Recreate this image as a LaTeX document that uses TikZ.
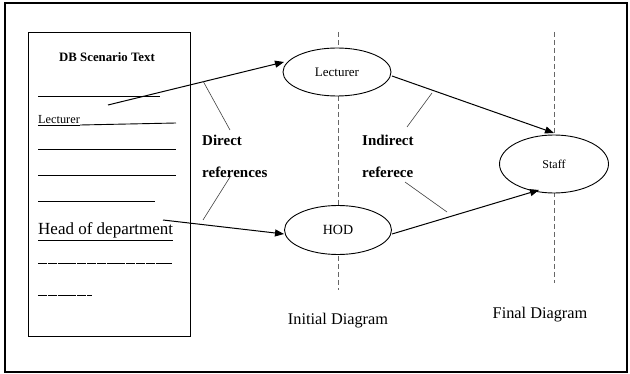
\documentclass[tikz,border=0pt]{standalone}
\usepackage{fontspec}
\setmainfont{Liberation Serif}
\usetikzlibrary{arrows.meta,shapes.geometric}
\newcommand{\fsz}[1]{\fontsize{#1}{#1}\selectfont}
\begin{document}
\begin{tikzpicture}[x=1pt,y=-1pt,
  ell/.style={draw,ellipse,fill=white,line width=0.9pt,inner sep=0pt},
  txtline/.style={line width=0.9pt},
  arr/.style={line width=1pt,-{Triangle[length=9pt,width=7pt]}},
  ptr/.style={line width=0.6pt,black!75},
  vdash/.style={line width=1pt,black!60,dash pattern=on 5pt off 3pt},
  lbl/.style={font=\fsz{15}\bfseries,anchor=west,inner sep=0pt},
  captxt/.style={font=\fsz{16.3},inner sep=0pt}]
\useasboundingbox (0,0) rectangle (630,374);
\draw[line width=1.4pt] (5,3) rectangle (627,372);
% document box
\draw[line width=0.8pt] (28,32) rectangle (190,336);
\node[font=\fsz{12.8}\bfseries,inner sep=0pt] (title) at (107,57) {DB Scenario Text};
\draw[txtline] (38,96) -- (160,96);
\node[font=\fsz{12.3},anchor=base west,inner sep=0pt] (lec) at (38,124) {\underline{Lecturer}};
\draw[txtline] (lec.base east) ++(0,1) coordinate (lecend) -- (176,123);
\draw[txtline] (38,149) -- (176,149);
\draw[txtline] (38,175) -- (176,175);
\draw[txtline] (38,201) -- (155,201);
\node[font=\fsz{17},anchor=base west,inner sep=0pt] (hodt) at (38,235) {\underline{Head of department}};
\draw[txtline,dash pattern=on 9pt off 0.8pt] (38,263) -- (172,263);
\draw[txtline,dash pattern=on 9pt off 0.8pt] (38,295) -- (92,295);
% dashed verticals
\draw[vdash] (338,32) -- (338,290);
\draw[vdash] (554,32) -- (554,283);
% ellipses
\node[ell,minimum width=108pt,minimum height=48pt] (L) at (337,72) {\fsz{13}Lecturer};
\node[ell,minimum width=107pt,minimum height=49pt] (H) at (338,230) {\fsz{14}HOD};
\node[ell,minimum width=109pt,minimum height=58pt] (S) at (554,164) {\fsz{12}Staff};
% arrows
\coordinate (a1) at (108,105);
\coordinate (a2) at (163,220);
\coordinate (t1) at (284,62);
\coordinate (t2) at (284,234);
\coordinate (s1) at (392,76);
\coordinate (t3) at (554,133);
\coordinate (s2) at (392,234);
\coordinate (t4) at (539,190);
\draw[arr] (a1) -- (t1);
\draw[arr] (a2) -- (t2);
\draw[arr] (s1) -- (t3);
\draw[arr] (s2) -- (t4);
% labels
\node[lbl] (d1) at (202,140) {Direct};
\node[lbl] (d2) at (202,172) {references};
\node[lbl] (i1) at (362,140) {Indirect};
\node[lbl] (i2) at (362,172) {referece};
\node[captxt] (init) at (338,321) {Initial Diagram};
\node[captxt] (fin) at (540,315) {Final Diagram};
% pointer lines
\coordinate (p1) at (203,81);
\coordinate (p2) at (203,220);
\coordinate (p3) at (432,93);
\coordinate (p4) at (447,212);
\coordinate (q1) at (230,130);
\coordinate (q2) at (230,177);
\coordinate (q3) at (407,127);
\coordinate (q4) at (405,182);
\draw[ptr] (p1) -- (q1);
\draw[ptr] (p2) -- (q2);
\draw[ptr] (p3) -- (q3);
\draw[ptr] (p4) -- (q4);
\end{tikzpicture}
\end{document}
